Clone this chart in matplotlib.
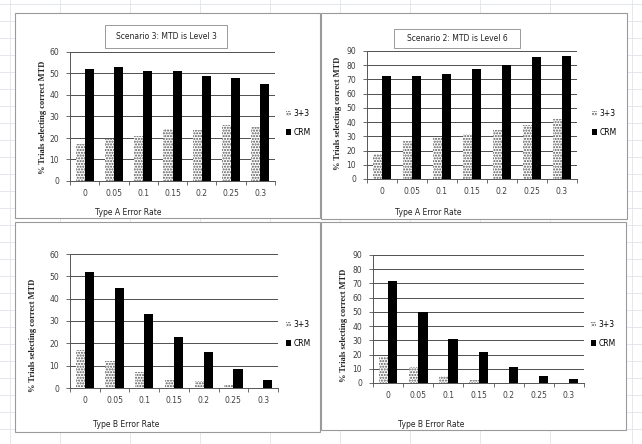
import numpy as np
import matplotlib
matplotlib.use("Agg")
import matplotlib.pyplot as plt
from matplotlib.patches import Rectangle, Patch

# data
rates = ["0", "0.05", "0.1", "0.15", "0.2", "0.25", "0.3"]

a_s3_33 = [17, 19.5, 21, 24, 23.5, 26, 25]
a_s3_crm = [52, 53, 51, 51, 49, 48, 45]

a_s2_33 = [17.5, 26.5, 29.5, 31.5, 34.5, 38, 42]
a_s2_crm = [72.5, 72.5, 74, 77.5, 80, 86, 86.5]

b_s3_33 = [17, 12, 7, 3.5, 3, 1.5, 0]
b_s3_crm = [52, 45, 33, 23, 16, 8.5, 3.5]

b_s2_33 = [18, 11, 5, 2, 0, 0, 0]
b_s2_crm = [72, 50, 31, 22, 11, 5, 3]

W, H = 642, 444
fig = plt.figure(figsize=(W / 100, H / 100), dpi=100)
fig.patch.set_facecolor("white")


def fx(x):
    return x / W


def fy(y):
    return 1 - y / H


# spreadsheet grid behind the charts
bg = fig.add_axes([0, 0, 1, 1])
bg.set_xlim(0, W)
bg.set_ylim(H, 0)
bg.axis("off")
for y in np.arange(4, H, 17):
    bg.axhline(y, color="#dfe4ea", lw=0.6)
for x in [10, 60, 130, 200, 270, 340, 410, 480, 550, 632]:
    bg.axvline(x, color="#dfe4ea", lw=0.6)

panels = [
    dict(box=(15, 13, 320, 218), area=(70, 52, 275, 181), s33=a_s3_33, crm=a_s3_crm,
         ymax=60, xl="Type A Error Rate", xlp=(128, 212), ylp=(43, 117), leg=(286, 116),
         title="Scenario 3: MTD is Level 3", tbox=(105, 25, 227, 48)),
    dict(box=(321, 13, 627, 219), area=(367, 51, 577, 179), s33=a_s2_33, crm=a_s2_crm,
         ymax=90, xl="Type A Error Rate", xlp=(428, 212), ylp=(338, 113), leg=(592, 116),
         title="Scenario 2: MTD is Level 6", tbox=(394, 29, 520, 48)),
    dict(box=(15, 222, 320, 432), area=(70, 254, 278, 388), s33=b_s3_33, crm=b_s3_crm,
         ymax=60, xl="Type B Error Rate", xlp=(126, 424), ylp=(33, 335), leg=(286, 327),
         title=None, tbox=None),
    dict(box=(321, 222, 626, 430), area=(373, 255, 584, 383), s33=b_s2_33, crm=b_s2_crm,
         ymax=90, xl="Type B Error Rate", xlp=(431, 424), ylp=(344, 325), leg=(591, 327),
         title=None, tbox=None),
]

tick_col = "#404040"
for p in panels:
    x0, y0, x1, y1 = p["box"]
    bg.add_patch(Rectangle((x0, y0), x1 - x0, y1 - y0, facecolor="white",
                           edgecolor="#9a9a9a", lw=0.8, zorder=2))
    if p["tbox"]:
        tx0, ty0, tx1, ty1 = p["tbox"]
        bg.add_patch(Rectangle((tx0, ty0), tx1 - tx0, ty1 - ty0, facecolor="white",
                               edgecolor="#9a9a9a", lw=0.7, zorder=3))
        bg.text((tx0 + tx1) / 2, (ty0 + ty1) / 2, p["title"], ha="center", va="center",
                fontsize=5.5, color="#222222", zorder=4)

    ax0, ay0, ax1, ay1 = p["area"]
    ax = fig.add_axes([fx(ax0), fy(ay1), fx(ax1 - ax0), (ay1 - ay0) / H])
    ax.set_facecolor("none")
    x = np.arange(len(rates))
    w = 0.31
    ax.bar(x - w / 2, p["s33"], w, facecolor="white", edgecolor="#555555",
           hatch="......", lw=0, zorder=3)
    ax.bar(x + w / 2, p["crm"], w, color="black", zorder=3)
    ax.set_xlim(-0.5, len(rates) - 0.5)
    ax.set_ylim(0, p["ymax"])
    ax.set_yticks(np.arange(0, p["ymax"] + 1, 10))
    ax.yaxis.grid(True, color="#333333", lw=0.6)
    ax.set_axisbelow(True)
    ax.set_xticks(x)
    ax.set_xticklabels(rates)
    ax.set_xticks(np.arange(-0.5, len(rates), 1), minor=True)
    ax.tick_params(axis="x", which="major", length=0, pad=6, labelsize=5.5, colors=tick_col)
    ax.tick_params(axis="x", which="minor", length=3, color="#555555", width=0.6)
    ax.tick_params(axis="y", length=3, width=0.6, pad=5, labelsize=5.5,
                   colors=tick_col, color="#555555")
    for s in ["top", "right"]:
        ax.spines[s].set_visible(False)
    for s in ["left", "bottom"]:
        ax.spines[s].set_color("#555555")
        ax.spines[s].set_linewidth(0.7)

    bg.text(p["xlp"][0], p["xlp"][1], p["xl"], ha="center", va="center",
            fontsize=5.5, color="#222222", zorder=4)
    bg.text(p["ylp"][0], p["ylp"][1], "% Trials selecting correct MTD", rotation=90,
            ha="center", va="center", fontsize=6, fontweight="bold",
            family="Liberation Serif", color="#222222", zorder=4)

    lx, ly = p["leg"]
    lax = fig.add_axes([fx(lx), fy(ly + 20), fx(40), 26 / H])
    lax.axis("off")
    handles = [Patch(facecolor="white", edgecolor="#555555", hatch="......", lw=0),
               Patch(facecolor="black")]
    lax.legend(handles, ["3+3", "CRM"], loc="center left", frameon=False,
               fontsize=5.5, handlelength=0.7, handleheight=0.7, handletextpad=0.3,
               labelspacing=1.2, borderaxespad=0, borderpad=0)

fig.savefig("out.png", dpi=100)
